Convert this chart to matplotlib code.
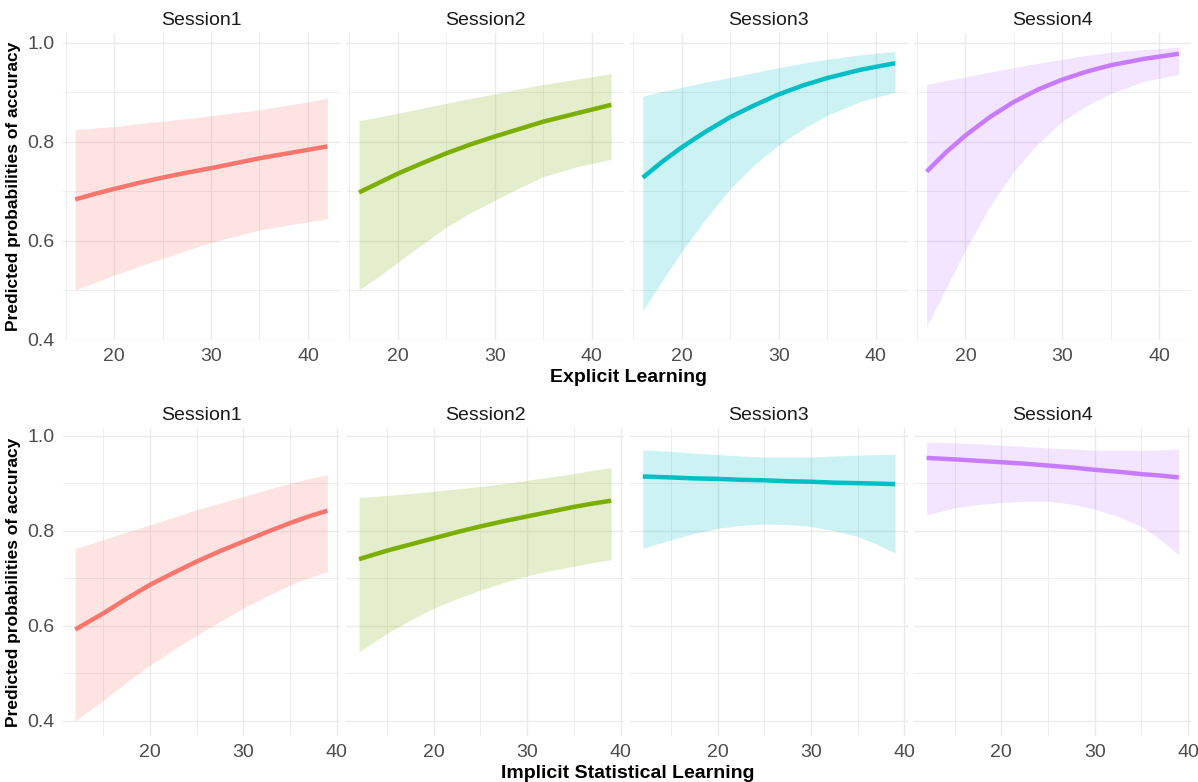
import matplotlib
matplotlib.use('Agg')
import matplotlib.pyplot as plt
from matplotlib.ticker import MultipleLocator

plt.rcParams['font.family'] = ['Liberation Sans', 'DejaVu Sans']

# ---------------------------------------------------------------------------
# values (predicted prob + CI band)
SESSIONS = ['Session1', 'Session2', 'Session3', 'Session4']
COLORS   = ['#F8766D', '#7CAE00', '#00BFC4', '#C77CFF']

# top row: Explicit Learning
x_expl = [16, 18, 20, 22.5, 25, 27.5, 30, 32.5, 35, 38.5, 42]
expl_fit = [
    [0.684, 0.695, 0.705, 0.717, 0.728, 0.738, 0.747, 0.757, 0.767, 0.779, 0.791],
    [0.698, 0.717, 0.736, 0.757, 0.777, 0.795, 0.811, 0.826, 0.841, 0.858, 0.875],
    [0.728, 0.760, 0.789, 0.821, 0.850, 0.874, 0.896, 0.914, 0.929, 0.946, 0.959],
    [0.740, 0.779, 0.813, 0.850, 0.881, 0.906, 0.926, 0.942, 0.955, 0.968, 0.978],
]
expl_hi = [
    [0.825, 0.828, 0.831, 0.837, 0.842, 0.847, 0.853, 0.859, 0.865, 0.876, 0.888],
    [0.843, 0.850, 0.858, 0.868, 0.878, 0.888, 0.897, 0.907, 0.916, 0.927, 0.938],
    [0.892, 0.902, 0.910, 0.921, 0.930, 0.940, 0.950, 0.959, 0.967, 0.976, 0.983],
    [0.916, 0.924, 0.931, 0.941, 0.950, 0.959, 0.967, 0.975, 0.981, 0.987, 0.991],
]
expl_lo = [
    [0.501, 0.516, 0.531, 0.548, 0.565, 0.581, 0.597, 0.610, 0.622, 0.634, 0.645],
    [0.501, 0.528, 0.557, 0.593, 0.628, 0.657, 0.682, 0.707, 0.730, 0.750, 0.765],
    [0.459, 0.520, 0.579, 0.645, 0.705, 0.754, 0.794, 0.826, 0.854, 0.882, 0.901],
    [0.427, 0.505, 0.582, 0.669, 0.741, 0.797, 0.842, 0.873, 0.898, 0.923, 0.936],
]

# bottom row: Implicit Statistical Learning
x_impl = [12, 15, 17.5, 20, 22.5, 25, 27.5, 30, 32.5, 35, 37, 39]
impl_fit = [
    [0.592, 0.626, 0.657, 0.686, 0.711, 0.735, 0.757, 0.777, 0.797, 0.816, 0.830, 0.842],
    [0.740, 0.758, 0.771, 0.784, 0.797, 0.809, 0.820, 0.830, 0.840, 0.850, 0.857, 0.863],
    [0.914, 0.912, 0.910, 0.909, 0.907, 0.906, 0.904, 0.903, 0.901, 0.900, 0.899, 0.898],
    [0.953, 0.950, 0.947, 0.944, 0.941, 0.937, 0.933, 0.928, 0.924, 0.919, 0.916, 0.912],
]
impl_hi = [
    [0.762, 0.781, 0.797, 0.812, 0.828, 0.844, 0.858, 0.872, 0.886, 0.900, 0.909, 0.918],
    [0.870, 0.874, 0.878, 0.883, 0.888, 0.893, 0.899, 0.906, 0.913, 0.920, 0.927, 0.933],
    [0.970, 0.967, 0.963, 0.960, 0.957, 0.955, 0.955, 0.955, 0.957, 0.959, 0.960, 0.961],
    [0.986, 0.985, 0.983, 0.980, 0.977, 0.974, 0.972, 0.969, 0.969, 0.969, 0.970, 0.972],
]
impl_lo = [
    [0.400, 0.443, 0.481, 0.517, 0.549, 0.580, 0.609, 0.637, 0.662, 0.686, 0.701, 0.714],
    [0.545, 0.584, 0.612, 0.637, 0.657, 0.675, 0.691, 0.705, 0.716, 0.725, 0.733, 0.739],
    [0.763, 0.781, 0.794, 0.805, 0.811, 0.814, 0.813, 0.809, 0.800, 0.788, 0.772, 0.753],
    [0.833, 0.848, 0.855, 0.859, 0.862, 0.862, 0.856, 0.845, 0.830, 0.809, 0.782, 0.749],
]

ROWS = [
    dict(x=x_expl, fit=expl_fit, hi=expl_hi, lo=expl_lo,
         xlabel='Explicit Learning', top=33, bottom=340, ylim=(0.4, 1.02)),
    dict(x=x_impl, fit=impl_fit, hi=impl_hi, lo=impl_lo,
         xlabel='Implicit Statistical Learning', top=428, bottom=736,
         ylim=(0.368, 1.016)),
]

# ---------------------------------------------------------------------------
W, H = 1198, 782
fig = plt.figure(figsize=(W / 100, H / 100), dpi=100)

P_LEFT, P_W, P_STEP = 62.6, 277.4, 283.8
GRID_C = '#EBEBEB'
TICK_C = '#4D4D4D'

for row in ROWS:
    xs = row['x']
    span = xs[-1] - xs[0]
    xlim = (xs[0] - 0.05 * span, xs[-1] + 0.05 * span)
    for i, name in enumerate(SESSIONS):
        l = P_LEFT + i * P_STEP
        ax = fig.add_axes([l / W, 1 - row['bottom'] / H, P_W / W,
                           (row['bottom'] - row['top']) / H])
        ax.fill_between(xs, row['lo'][i], row['hi'][i], color=COLORS[i],
                        alpha=0.2, lw=0, zorder=2)
        ax.plot(xs, row['fit'][i], color=COLORS[i], lw=3.2,
                solid_capstyle='butt', solid_joinstyle='round', zorder=3)
        ax.set_xlim(*xlim)
        ax.set_ylim(*row['ylim'])
        ax.xaxis.set_major_locator(MultipleLocator(10))
        ax.xaxis.set_minor_locator(MultipleLocator(5))
        ax.yaxis.set_major_locator(MultipleLocator(0.2))
        ax.yaxis.set_minor_locator(MultipleLocator(0.1))
        ax.grid(which='major', color=GRID_C, lw=1.0, zorder=0)
        ax.grid(which='minor', color=GRID_C, lw=0.6, zorder=0)
        ax.set_axisbelow(True)
        for s in ax.spines.values():
            s.set_visible(False)
        ax.tick_params(which='both', length=0, labelsize=14,
                       labelcolor=TICK_C, pad=6)
        if i == 0:
            ax.set_yticks([0.4, 0.6, 0.8, 1.0])
            ax.set_yticklabels(['0.4', '0.6', '0.8', '1.0'])
            ax.set_ylabel('Predicted probabilities of accuracy',
                          fontsize=12.5, fontweight='bold', labelpad=4)
        else:
            ax.tick_params(axis='y', labelleft=False)
        ax.set_title(name, fontsize=14, color='#1A1A1A', pad=6)

    fig.text(628 / W, 1 - (row['bottom'] + 37) / H, row['xlabel'],
             ha='center', va='center', fontsize=14, fontweight='bold')

fig.savefig('out.png', dpi=100, facecolor='white')
